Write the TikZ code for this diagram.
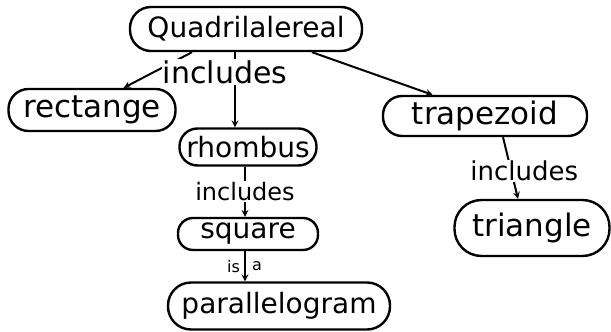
\documentclass[tikz,border=0pt]{standalone}
\usepackage{amsmath}
\usepackage{fontspec}
\setmainfont{DejaVu Sans}
\usepackage{tikz}

\tikzset{
	concept/.style={draw, line width=2.4pt, rounded corners=18pt, inner sep=0pt, font=\fontsize{28}{32}\selectfont},
	bigconcept/.style={concept, font=\fontsize{31}{34}\selectfont},
	linkword/.style={fill=white, inner sep=1pt, font=\fontsize{24}{28}\selectfont},
	smallword/.style={inner sep=1pt, font=\fontsize{16}{18}\selectfont},
	link/.style={->, line width=2pt}
}

\begin{document}
\begin{tikzpicture}[x=1pt, y=-1pt, >=stealth]
			\useasboundingbox (0, 0) rectangle (611, 332);
			%%
			\node[concept, minimum width=232pt, minimum height=44pt, rounded corners=21pt] (quad) at (246, 29) {Quadrilalereal};
			\node[bigconcept, minimum width=167pt, minimum height=42pt, rounded corners=20pt] (rect) at (92, 110) {rectange};
			\node[bigconcept, minimum width=204pt, minimum height=40pt, rounded corners=19pt] (trap) at (485, 116) {trapezoid};
			\node[concept, minimum width=137pt, minimum height=37pt] (rhomb) at (248, 147) {rhombus};
			\node[concept, minimum width=140pt, minimum height=32pt, rounded corners=15pt] (sq) at (248, 234) {square};
			\node[bigconcept, minimum width=155pt, minimum height=56pt, rounded corners=27pt] (tri) at (532, 228) {triangle};
			\node[concept, minimum width=222pt, minimum height=47pt, rounded corners=23pt] (para) at (279, 306) {parallelogram};
			%%
			\draw[link] ([xshift=-54pt]quad.south) -- (rect.35);
			\draw[link] ([xshift=-11pt]quad.south) -- ([xshift=-13pt]rhomb.north);
			\draw[link] ([xshift=66pt]quad.south) -- (trap.158);
			\node[linkword, font=\fontsize{30}{32}\selectfont] (inc1) at (225, 72) {includes};
			%%
			\draw[link] ([xshift=-3pt]rhomb.south) -- node[linkword]{includes} ([xshift=-3pt]sq.north);
			\draw[link] ([xshift=18pt]trap.south) -- node[linkword, pos=0.55, xshift=13pt, font=\fontsize{26}{28}\selectfont]{includes} ([xshift=-14pt]tri.north);
			%%
			\draw[link] ([xshift=-3pt]sq.south) -- node[smallword, left=3pt]{is} node[smallword, right=5pt]{a} ([xshift=-3pt]sq.south |- para.north);
		\end{tikzpicture}
\end{document}
